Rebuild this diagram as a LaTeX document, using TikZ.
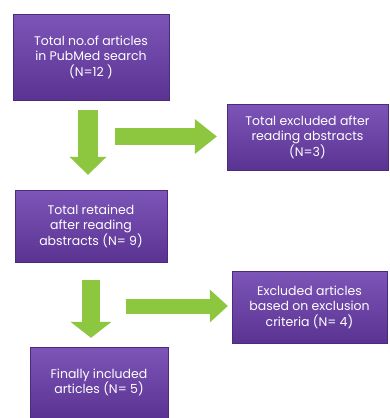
\documentclass[tikz,border=0pt]{standalone}
\usepackage{fontspec}
\setmainfont{Poppins}
\usetikzlibrary{arrows.meta}
\definecolor{boxtop}{HTML}{7D55B8}
\definecolor{boxbot}{HTML}{5A3392}
\definecolor{arrowgreen}{HTML}{8DC63F}

\begin{document}
\begin{tikzpicture}[x=1pt, y=-1pt,
		box/.style={top color=boxtop, bottom color=boxbot, draw=boxbot!85!black, line width=0.4pt,
			text=white, align=center, inner sep=0pt, font=\fontsize{12.5}{15.5}\selectfont},
		greenarrow/.style n args={3}{draw=arrowgreen, line width=#1,
			-{Triangle[width=#2, length=#3, line width=0pt 0]}}]
			%%%%% START %%%%%
			
			\useasboundingbox[fill=white] (0, 0) rectangle (390, 418);
			
			\node[box, minimum width=156pt, minimum height=86pt] (total) at (91, 57)
				{Total no.of articles\\in PubMed search\\(N=12 )};
			\node[box, minimum width=161pt, minimum height=66pt] (excl) at (307.5, 137)
				{Total excluded after\\reading abstracts\\(N=3)};
			\node[box, minimum width=152pt, minimum height=72pt] (retained) at (91, 226)
				{Total retained\\after reading\\abstracts (N= 9)};
			\node[box, minimum width=155pt, minimum height=72pt] (crit) at (309.5, 307)
				{Excluded articles\\based on exclusion\\criteria (N= 4)};
			\node[box, minimum width=138pt, minimum height=71pt] (final) at (99, 382.5)
				{Finally included\\articles (N= 5)};
			
			\coordinate (r1) at (115, 136.5);
			\coordinate (r2) at (126, 306);
			
			\draw[greenarrow={20pt}{37pt}{18pt}, shorten <=10pt, shorten >=15pt]
				([xshift=-3pt]total.south) -- ([xshift=-3pt]retained.north);
			\draw[greenarrow={17pt}{35pt}{22pt}, shorten >=10pt] (r1) -- (r1 -| excl.west);
			
			\draw[greenarrow={18pt}{41pt}{16pt}, shorten <=18pt, shorten >=9pt]
				(retained.south) -- (retained.south |- final.north);
			\draw[greenarrow={15pt}{33pt}{18pt}, shorten >=4pt] (r2) -- (r2 -| crit.west);
			
			%%%%% END %%%%%
		\end{tikzpicture}
\end{document}
